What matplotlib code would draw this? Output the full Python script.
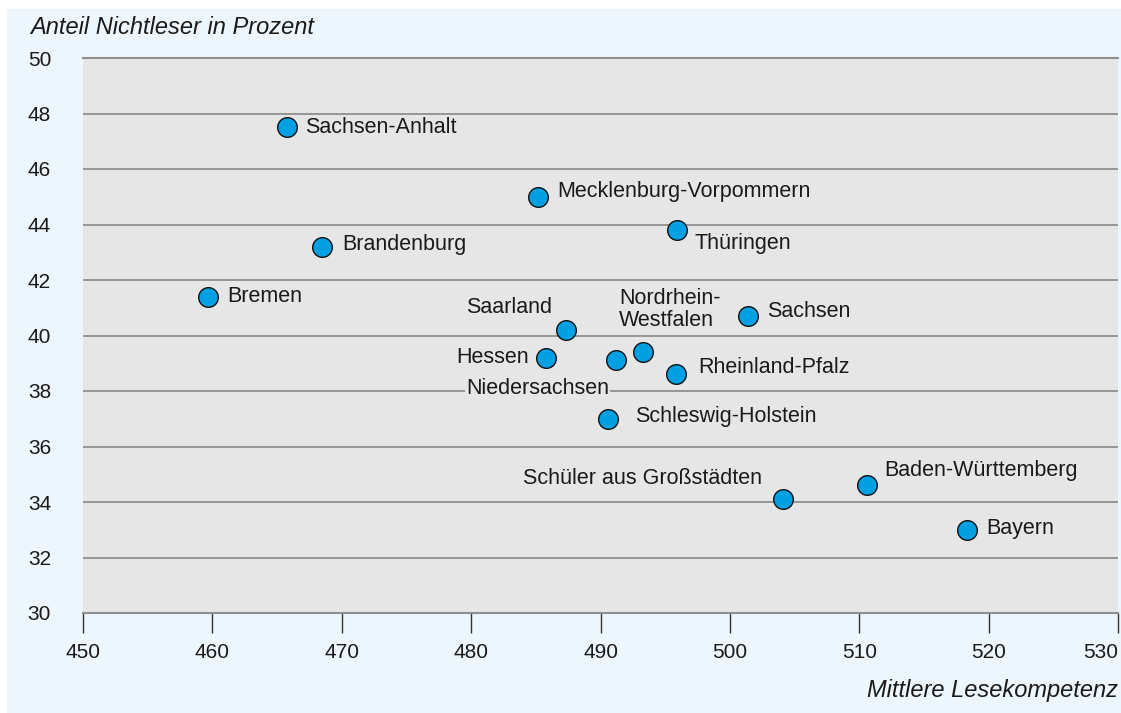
import matplotlib
matplotlib.use("Agg")
import matplotlib.pyplot as plt
from matplotlib.patches import Rectangle

# data: (Mittlere Lesekompetenz, Anteil Nichtleser in %)
names = ["Sachsen-Anhalt", "Mecklenburg-Vorpommern", "Brandenburg", "Thüringen",
         "Bremen", "Saarland", "Nordrhein-\nWestfalen", "Sachsen", "Hessen",
         "Niedersachsen", "Rheinland-Pfalz", "Schleswig-Holstein",
         "Schüler aus Großstädten", "Baden-Württemberg", "Bayern"]
lesekompetenz = [465.8, 485.2, 468.5, 495.9, 459.7, 487.3, 493.3, 501.4, 485.8,
                 491.2, 495.8, 490.6, 504.1, 510.6, 518.3]
nichtleser = [47.5, 45.0, 43.2, 43.8, 41.4, 40.2, 39.4, 40.7, 39.2,
              39.1, 38.6, 37.0, 34.1, 34.6, 33.0]

xticks = [450, 460, 470, 480, 490, 500, 510, 520, 530]
yticks = [30, 32, 34, 36, 38, 40, 42, 44, 46, 48, 50]

# label placement in pixels relative to the marker (dx, dy, ha)
label_pos = [(18, 0, "left"), (19, 5, "left"), (20, 2, "left"), (18, -13, "left"),
             (19, 0, "left"), (-14, 22, "right"), (-24, 43, "left"), (19, 5, "left"),
             (-17, 0, "right"), (-7, -28, "right"), (23, 7, "left"), (27, 2, "left"),
             (-21, 21, "right"), (17, 15, "left"), (20, 1, "left")]

W, H = 1121, 713
BG = "#eef6fd"
PLOT_BG = "#e6e6e6"
GRID = "#8f8f8f"
DOT = "#00a0e3"
TXT = "#1a1a1a"

plt.rcParams["font.family"] = ["Liberation Sans", "DejaVu Sans"]

fig = plt.figure(figsize=(W / 100, H / 100), dpi=100)
fig.patch.set_facecolor("white")
fig.patches.append(Rectangle((7 / W, 0), 1 - 7 / W, 1 - 9 / H, transform=fig.transFigure,
                             facecolor=BG, edgecolor="none", zorder=-10))

ax = fig.add_axes([83 / W, 1 - 613 / H, (1118 - 83) / W, (613 - 58) / H])
ax.set_facecolor(PLOT_BG)
ax.set_xlim(450, 530)
ax.set_ylim(30, 50)
ax.set_xticks(xticks)
ax.set_yticks(yticks)
ax.yaxis.grid(True, color=GRID, linewidth=1.3)
ax.set_axisbelow(True)
for s in ("left", "right"):
    ax.spines[s].set_visible(False)
for s in ("top", "bottom"):
    ax.spines[s].set_color(GRID)
    ax.spines[s].set_linewidth(1.5)
ax.tick_params(axis="x", direction="out", length=14.5, width=1, color="#333333",
               pad=7, labelsize=15, labelcolor=TXT)
ax.tick_params(axis="y", length=0, pad=23, labelsize=15, labelcolor=TXT)
# last x label sits inside the frame like in the original
ax.get_xticklabels()[-1].set_horizontalalignment("right")

ax.scatter(lesekompetenz, nichtleser, s=200, color=DOT, edgecolor="#111111",
           linewidth=1, zorder=3)

for name, x, y, (dx, dy, ha) in zip(names, lesekompetenz, nichtleser, label_pos):
    kw = {}
    if name == "Niedersachsen":
        kw["bbox"] = dict(facecolor=PLOT_BG, edgecolor="none", pad=1)
    ax.annotate(name, (x, y), xytext=(dx, dy), textcoords="offset pixels",
                ha=ha, va="center", fontsize=15.5, color=TXT,
                linespacing=1.05, zorder=4, **kw)

fig.text(30 / W, 1 - 28 / H, "Anteil Nichtleser in Prozent", fontsize=17,
         style="italic", ha="left", va="center", color=TXT)
fig.text(1118 / W, 1 - 690 / H, "Mittlere Lesekompetenz", fontsize=17,
         style="italic", ha="right", va="center", color=TXT)

fig.savefig("out.png", dpi=100)
